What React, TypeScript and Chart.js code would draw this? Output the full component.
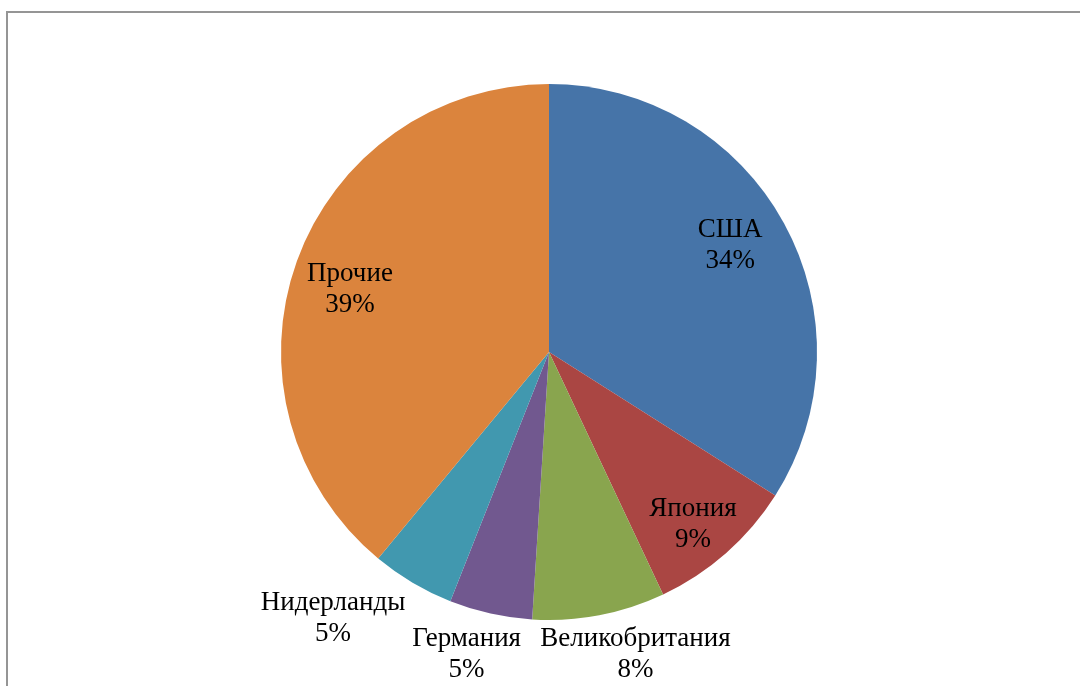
import React, { useEffect, useRef } from "react";
import { Chart, registerables } from "chart.js";

Chart.register(...registerables);

const categories = ["США", "Япония", "Великобритания", "Германия", "Нидерланды", "Прочие"];
const shares = [34, 9, 8, 5, 5, 39];
const sliceColors = ["#4674A8", "#AA4643", "#89A54E", "#71588F", "#4198AF", "#DB843D"];
// label placement: radial factor (of outer radius) and angular nudge (degrees)
const labelRadius = [0.787, 0.834, 1.17, 1.165, 1.278, 0.78];
const labelNudge = [-2, 1.3, -5.2, 2.7, 8.5, -2];

const labelPlugin = {
  id: "sliceLabels",
  afterDatasetsDraw(chart: any) {
    const ctx = chart.ctx;
    const meta = chart.getDatasetMeta(0);
    const data = chart.data.datasets[0].data as number[];
    const total = data.reduce((a: number, b: number) => a + b, 0);
    ctx.save();
    ctx.font = '27px "Liberation Serif", "Times New Roman", serif';
    ctx.fillStyle = "#000000";
    ctx.textAlign = "center";
    ctx.textBaseline = "middle";
    meta.data.forEach((arc: any, i: number) => {
      const p = arc.getProps(["x", "y", "startAngle", "endAngle", "outerRadius"], true);
      const mid = (p.startAngle + p.endAngle) / 2 + (labelNudge[i] * Math.PI) / 180;
      const d = p.outerRadius * labelRadius[i];
      const cx = p.x + Math.cos(mid) * d;
      const cy = p.y + Math.sin(mid) * d + 1;
      const pct = Math.round((data[i] / total) * 100) + "%";
      ctx.fillText(chart.data.labels[i], cx, cy - 15.5);
      ctx.fillText(pct, cx, cy + 15.5);
    });
    ctx.restore();
  },
};

export default function App() {
  const ref = useRef<HTMLCanvasElement | null>(null);
  useEffect(() => {
    document.body.style.margin = "0";
    document.body.style.background = "#ffffff";
    document.body.style.overflow = "hidden";
    const chart = new Chart(ref.current as HTMLCanvasElement, {
      type: "pie",
      data: {
        labels: categories,
        datasets: [
          {
            data: shares,
            backgroundColor: sliceColors,
            borderWidth: 0,
          },
        ],
      },
      options: {
        animation: false,
        responsive: false,
        maintainAspectRatio: false,
        layout: { padding: { left: 281, right: 263, top: 84, bottom: 66 } },
        plugins: {
          legend: { display: false },
          tooltip: { enabled: false },
        },
      },
      plugins: [labelPlugin],
    });
    return () => chart.destroy();
  }, []);
  return (
    <div style={{ position: "fixed", left: 0, top: 0, width: 1080, height: 686, overflow: "hidden", background: "#fff" }}>
      <div
        style={{
          position: "absolute",
          left: 6,
          top: 11,
          width: 1200,
          height: 800,
          borderLeft: "2px solid #959595",
          borderTop: "2px solid #959595",
        }}
      />
      <canvas ref={ref} width={1080} height={686} style={{ position: "absolute", left: 0, top: 0, width: 1080, height: 686 }} />
    </div>
  );
}
